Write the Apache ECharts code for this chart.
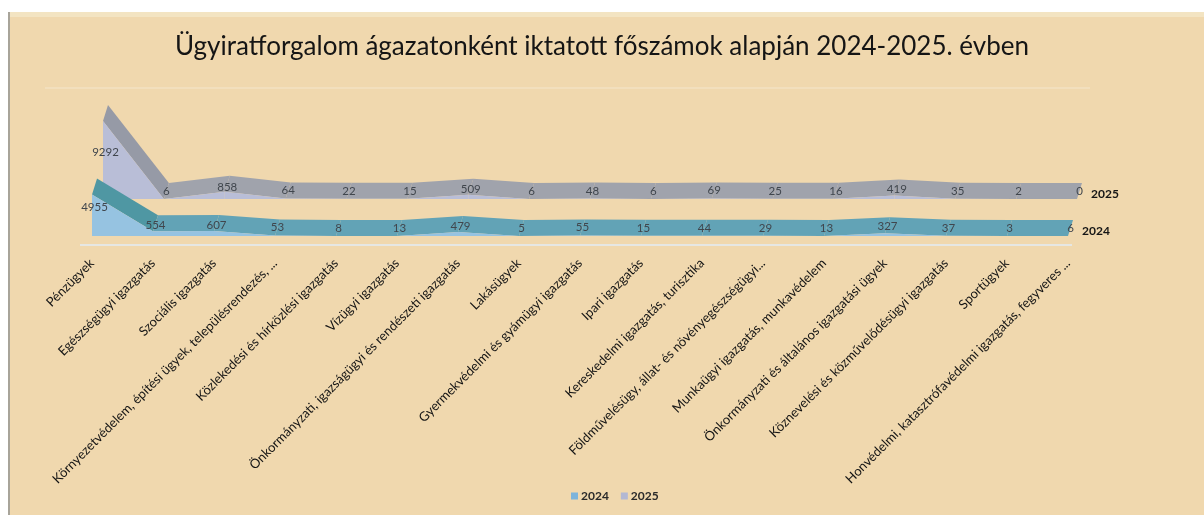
<!DOCTYPE html>
<html>
<head>
<meta charset="utf-8">
<script src="https://cdn.jsdelivr.net/npm/echarts@6/dist/echarts.min.js"></script>
<style>
html,body{margin:0;padding:0;background:#ffffff;}
#chart{width:1204px;height:515px;}
</style>
</head>
<body>
<div id="chart"></div>
<script>
const titleText = 'Ügyiratforgalom ágazatonként iktatott főszámok alapján 2024-2025. évben';
const categories = [
  'Pénzügyek',
  'Egészségügyi igazgatás',
  'Szociális igazgatás',
  'Környezetvédelem, építési ügyek, településrendezés, ...',
  'Közlekedési és hírközlési igazgatás',
  'Vízügyi igazgatás',
  'Önkormányzati, igazságügyi és rendészeti igazgatás',
  'Lakásügyek',
  'Gyermekvédelmi és gyámügyi igazgatás',
  'Ipari igazgatás',
  'Kereskedelmi igazgatás, turisztika',
  'Földművelésügy, állat- és növényegészségügyi...',
  'Munkaügyi igazgatás, munkavédelem',
  'Önkormányzati és általános igazgatási ügyek',
  'Köznevelési és közművelődésügyi igazgatás',
  'Sportügyek',
  'Honvédelmi, katasztrófavédelmi igazgatás, fegyveres ...'
];
const values2024 = [4955, 554, 607, 53, 8, 13, 479, 5, 55, 15, 44, 29, 13, 327, 37, 3, 6];
const values2025 = [9292, 6, 858, 64, 22, 15, 509, 6, 48, 6, 69, 25, 16, 419, 35, 2, 0];
const seriesNames = ['2024', '2025'];

const DX = 5, DY = 16;
const n = categories.length;
const FONT = 'Lato, "Open Sans", sans-serif';

function toData(vals) {
  return vals.map((v, i) => [i, v, i < vals.length - 1 ? vals[i + 1] : 0]);
}

function makeRender(name, frontColor, bandColor, bandDark) {
  return function (params, api) {
    const i = api.value(0);
    const v = api.value(1);
    const vn = api.value(2);
    const p = api.coord([i, v]);
    const b = api.coord([i, 0]);
    const children = [];
    if (i < n - 1) {
      const q = api.coord([i + 1, vn]);
      const qb = api.coord([i + 1, 0]);
      const slope = Math.abs((q[1] - p[1]) / (q[0] - p[0]));
      children.push({
        type: 'polygon',
        shape: { points: [p, q, [q[0] + DX, q[1] - DY], [p[0] + DX, p[1] - DY]] },
        style: { fill: slope > 0.3 ? bandDark : bandColor }
      });
      children.push({
        type: 'polygon',
        shape: { points: [b, p, q, qb] },
        style: { fill: frontColor }
      });
    } else {
      children.push({
        type: 'polygon',
        shape: { points: [b, p, [p[0] + DX, p[1] - DY], [b[0] + DX, b[1] - DY]] },
        style: { fill: bandColor }
      });
    }
    children.push({
      type: 'text',
      z2: 10,
      style: {
        x: p[0] + DX / 2,
        y: (p[1] + b[1]) / 2 - DY / 2,
        text: String(v),
        fill: '#40464d',
        font: '11.5px ' + FONT,
        align: 'center',
        verticalAlign: 'middle'
      }
    });
    if (i === n - 1) {
      children.push({
        type: 'text',
        z2: 10,
        style: {
          x: p[0] + 14,
          y: (p[1] + b[1]) / 2 - DY / 2 + 3,
          text: name,
          fill: '#151515',
          font: 'bold 12px ' + FONT,
          align: 'left',
          verticalAlign: 'middle'
        }
      });
    }
    return { type: 'group', children: children };
  };
}

const chart = echarts.init(document.getElementById('chart'), null, { renderer: 'canvas' });

const option = {
  animation: false,
  backgroundColor: '#ffffff',
  graphic: [
    { type: 'rect', z: -10, shape: { x: 8, y: 12, width: 1196, height: 503 }, style: { fill: '#f0d8ae' } },
    { type: 'rect', z: -9, shape: { x: 8, y: 12, width: 1196, height: 5 }, style: { fill: '#f3e4c2' } },
    { type: 'rect', z: -9, shape: { x: 8, y: 12, width: 2, height: 503 }, style: { fill: '#a8a49a' } },
    { type: 'line', z: -8, shape: { x1: 80, y1: 245, x2: 1072, y2: 245 }, style: { stroke: 'rgba(228,234,236,0.85)', lineWidth: 2 } },
    { type: 'line', z: -8, shape: { x1: 45, y1: 88, x2: 1090, y2: 88 }, style: { stroke: 'rgba(250,240,225,0.3)', lineWidth: 2 } }
  ],
  title: {
    text: titleText,
    left: 'center',
    top: 29,
    textStyle: { fontFamily: FONT, fontWeight: 'normal', fontSize: 26, color: '#151515' }
  },
  legend: {
    data: seriesNames,
    left: 566,
    top: 485,
    itemWidth: 7,
    itemHeight: 7,
    itemGap: 12,
    icon: 'rect',
    textStyle: { fontFamily: FONT, fontSize: 12, fontWeight: 'bold', color: '#2a2a2a', padding: [0, 0, 0, -2] }
  },
  grid: [
    { left: 103, right: 1204 - 1077, top: 199 - 84, height: 84 },
    { left: 92, right: 1204 - 1068, top: 236 - 84, height: 84 }
  ],
  xAxis: [
    { gridIndex: 0, type: 'category', data: categories, boundaryGap: false, axisLine: { show: false }, axisTick: { show: false }, axisLabel: { show: false }, splitLine: { show: false } },
    { gridIndex: 1, type: 'category', data: categories, boundaryGap: false, axisLine: { show: false }, axisTick: { show: false }, splitLine: { show: false },
      axisLabel: { show: true, interval: 0, rotate: 45, margin: 25, color: '#141414', fontSize: 13, fontFamily: FONT } }
  ],
  yAxis: [
    { gridIndex: 0, type: 'value', min: 0, max: 10000, show: false },
    { gridIndex: 1, type: 'value', min: 0, max: 10000, show: false }
  ],
  series: [
    {
      name: '2025', type: 'custom', xAxisIndex: 0, yAxisIndex: 0, clip: false,
      itemStyle: { color: '#b3b8d3' },
      encode: { x: 0, y: 1 },
      data: toData(values2025),
      renderItem: makeRender('2025', '#b9bed7', '#a0a3ac', '#969aa6')
    },
    {
      name: '2024', type: 'custom', xAxisIndex: 1, yAxisIndex: 1, clip: false,
      itemStyle: { color: '#7db4db' },
      encode: { x: 0, y: 1 },
      data: toData(values2024),
      renderItem: makeRender('2024', '#96c3e1', '#62a3b6', '#4f97a3')
    }
  ]
};
chart.setOption(option);
</script>
</body>
</html>
